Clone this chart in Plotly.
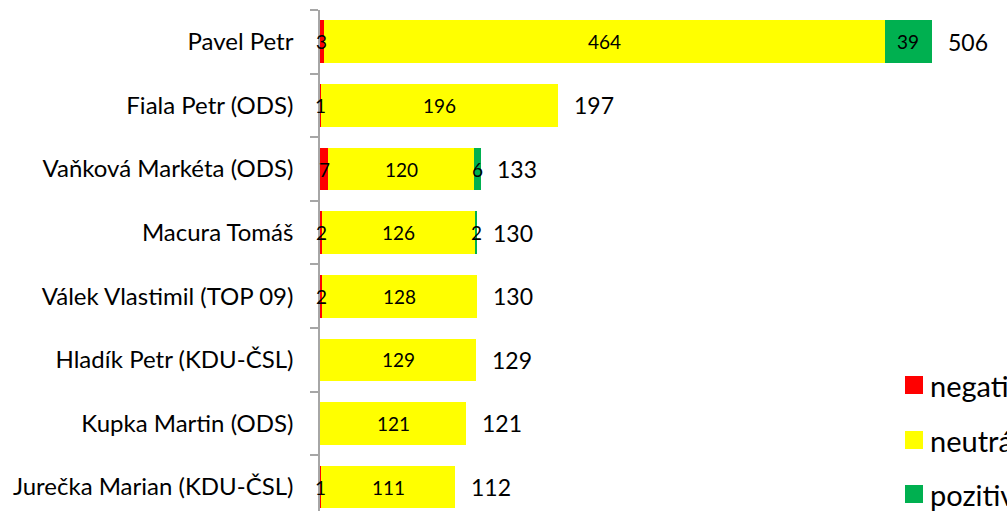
import plotly.graph_objects as go

categories = ["Pavel Petr", "Fiala Petr (ODS)", "Vaňková Markéta (ODS)", "Macura Tomáš",
              "Válek Vlastimil (TOP 09)", "Hladík Petr (KDU-ČSL)", "Kupka Martin (ODS)",
              "Jurečka Marian (KDU-ČSL)"]
negative = [3, 1, 7, 2, 2, 0, 0, 1]
neutral = [464, 196, 120, 126, 128, 129, 121, 111]
positive = [39, 0, 6, 2, 0, 0, 0, 0]
series_names = ["negativní", "neutrální", "pozitivní"]
colors = ["#FF0000", "#FFFF00", "#00B050"]

FONT = "Lato"
series = [negative, neutral, positive]

fig = go.Figure()
for name, vals, col in zip(series_names, series, colors):
    fig.add_trace(go.Bar(y=categories, x=vals, name=name, orientation="h",
                         marker=dict(color=col, line=dict(width=0)),
                         showlegend=False, hoverinfo="x+name"))

annotations = []
for i, cat in enumerate(categories):
    cum = 0
    for vals in series:
        v = vals[i]
        if v > 0:
            annotations.append(dict(x=cum + v / 2, y=cat, xref="x", yref="y", text=str(v),
                                    showarrow=False, xanchor="center", yanchor="middle",
                                    font=dict(family=FONT, size=19, color="#000")))
        cum += v
    total = negative[i] + neutral[i] + positive[i]
    annotations.append(dict(x=total, y=cat, xref="x", yref="y", text=str(total),
                            showarrow=False, xanchor="left", yanchor="middle", xshift=14,
                            font=dict(family=FONT, size=23, color="#000")))

# manual legend (clipped by right edge as in reference)
shapes = []
leg_y = [385, 440, 494]
for name, col, yc in zip(series_names, colors, leg_y):
    shapes.append(dict(type="rect", xref="paper", yref="paper",
                       x0=(905 - 320) / 687, x1=(923 - 320) / 687,
                       y0=(511 - yc - 9) / 501, y1=(511 - yc + 9) / 501,
                       fillcolor=col, line=dict(width=0)))
    annotations.append(dict(x=(928 - 320) / 687, y=(511 - yc) / 501, xref="paper", yref="paper",
                            text=name, showarrow=False, xanchor="left", yanchor="middle",
                            font=dict(family=FONT, size=29, color="#000")))

fig.update_layout(
    width=1007, height=511, barmode="stack", bargap=0.33,
    margin=dict(l=320, r=0, t=10, b=0),
    paper_bgcolor="white", plot_bgcolor="white",
    xaxis=dict(range=[0, 568], visible=False, fixedrange=True),
    yaxis=dict(type="category", categoryorder="array", categoryarray=categories,
               range=[7.377, -0.5], showgrid=False, zeroline=False, fixedrange=True,
               showline=True, linecolor="#A6A6A6", linewidth=1.5,
               ticks="outside", ticklen=8, tickcolor="#A6A6A6", tickwidth=1.5,
               tickson="boundaries", ticklabelstandoff=20,
               tickfont=dict(family=FONT, size=24, color="#000")),
    annotations=annotations, shapes=shapes,
)

fig.write_html("out.html", config={"displayModeBar": False},
               post_script="document.body.style.margin='0';document.body.style.overflow='hidden';")
